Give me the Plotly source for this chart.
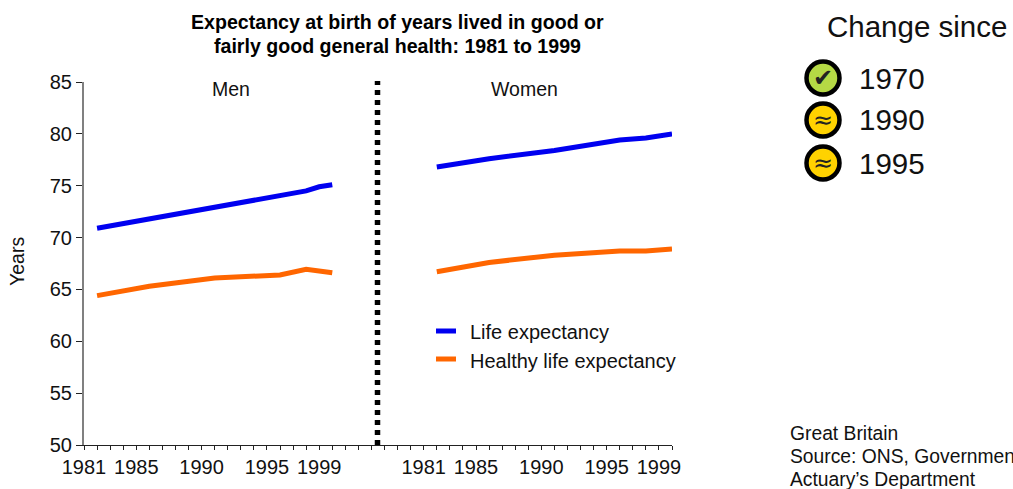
import plotly.graph_objects as go

W, H = 1013, 489
L, R, T, B = 84, 672, 82, 445

# Data
years = [1981, 1985, 1990, 1995, 1997, 1998, 1999]
men_life = [70.9, 71.8, 72.9, 74.1, 74.5, 74.9, 75.1]
men_healthy = [64.4, 65.3, 66.1, 66.4, 66.95, 66.75, 66.6]
women_life = [76.8, 77.6, 78.4, 79.4, 79.6, 79.8, 80.0]
women_healthy = [66.7, 67.6, 68.3, 68.7, 68.7, 68.8, 68.9]
tick_years = [1981, 1985, 1990, 1995, 1999]
status_years = ["1970", "1990", "1995"]
status_marks = ["✔", "≈", "≈"]
status_fills = ["#b5d945", "#ffd200", "#ffd200"]

BLUE, ORANGE = "#0000f0", "#ff6600"
FONT = "Liberation Sans"
WOMEN_OFFSET = 26
N_SLOTS = 45


def px(x):
    return (x - L) / (R - L)


def py(y):
    return (B - y) / (B - T)


def men_slot(y):
    return y - 1980


def women_slot(y):
    return y - 1980 + WOMEN_OFFSET


fig = go.Figure()
for xs, ys, color, name in [
    ([men_slot(y) for y in years], men_life, BLUE, "Life expectancy"),
    ([men_slot(y) for y in years], men_healthy, ORANGE, "Healthy life expectancy"),
    ([women_slot(y) for y in years], women_life, BLUE, "Life expectancy"),
    ([women_slot(y) for y in years], women_healthy, ORANGE, "Healthy life expectancy"),
]:
    fig.add_trace(go.Scatter(x=xs, y=ys, mode="lines", name=name, showlegend=False,
                             line=dict(color=color, width=5), cliponaxis=False))

labels = {y - 1981: str(y) for y in tick_years}
labels.update({y - 1981 + WOMEN_OFFSET: str(y) for y in tick_years})
tickvals = list(range(N_SLOTS + 1))
ticktext = [labels.get(v, "") for v in tickvals]

shapes = [
    dict(type="line", xref="paper", yref="paper", x0=px(377.5), x1=px(377.5), y0=py(445), y1=py(81),
         line=dict(color="black", width=5.5, dash="5px,5px"), layer="above"),
    dict(type="line", xref="paper", yref="paper", x0=px(436), x1=px(456), y0=py(331), y1=py(331),
         line=dict(color=BLUE, width=5)),
    dict(type="line", xref="paper", yref="paper", x0=px(436), x1=px(456), y0=py(359), y1=py(359),
         line=dict(color=ORANGE, width=5)),
]


def note(x, y, text, size, anchor="left", color="#111111", bold=False, family=FONT, **kw):
    return dict(xref="paper", yref="paper", x=px(x), y=py(y), text=f"<b>{text}</b>" if bold else text,
                showarrow=False, xanchor=anchor, yanchor="middle",
                font=dict(family=family, size=size, color=color), **kw)


annotations = [
    note(397.5, 22, "Expectancy at birth of years lived in good or", 19.6, "center", "black", True),
    note(397.5, 46, "fairly good general health: 1981 to 1999", 19.6, "center", "black", True),
    note(231, 89, "Men", 19.5, "center"),
    note(524, 89, "Women", 19.5, "center"),
    note(468, 332, "Life expectancy", 20),
    note(468, 361, "Healthy life expectancy", 20),
    note(825, 26, "Change since", 29.5),
    note(788, 433, "Great Britain", 19.3),
    note(788, 456, "Source: ONS, Government", 19.3),
    note(788, 479, "Actuary’s Department", 19.3),
    note(17, 262, "Years", 19.5, "center", textangle=-90),
]

for (cy, yr, mark, fill) in zip([78, 120, 163], status_years, status_marks, status_fills):
    shapes.append(dict(type="circle", xref="paper", yref="paper",
                       x0=px(823 - 16.5), x1=px(823 + 16.5), y0=py(cy + 16.5), y1=py(cy - 16.5),
                       fillcolor=fill, line=dict(color="black", width=4.5)))
    annotations.append(note(823, cy, mark, 24, "center", "#222222", family="DejaVu Sans"))
    annotations.append(note(857, cy, yr, 29.5))

fig.update_layout(
    width=W, height=H, autosize=False,
    margin=dict(l=L, r=W - R, t=T, b=H - B, pad=0),
    paper_bgcolor="white", plot_bgcolor="white",
    showlegend=False, shapes=shapes, annotations=annotations,
    font=dict(family=FONT, size=18, color="#111111"),
    xaxis=dict(range=[0, N_SLOTS], tickmode="array", tickvals=tickvals, ticktext=ticktext,
               ticks="outside", ticklen=4, tickwidth=1, tickcolor="#222222", tickangle=0,
               showgrid=False, zeroline=False, showline=True, linecolor="#222222", linewidth=1,
               automargin=False, tickfont=dict(family=FONT, size=20, color="#111111")),
    yaxis=dict(range=[50, 85], tickmode="linear", tick0=50, dtick=5,
               ticks="outside", ticklen=6, tickwidth=1, tickcolor="#222222",
               showgrid=False, zeroline=False, showline=True, linecolor="#808080", linewidth=2,
               automargin=False, tickfont=dict(family=FONT, size=20, color="#111111")),
)

fig.write_html("out.html", config=dict(displayModeBar=False),
               post_script="document.body.style.margin='0';document.body.style.overflow='hidden';")
